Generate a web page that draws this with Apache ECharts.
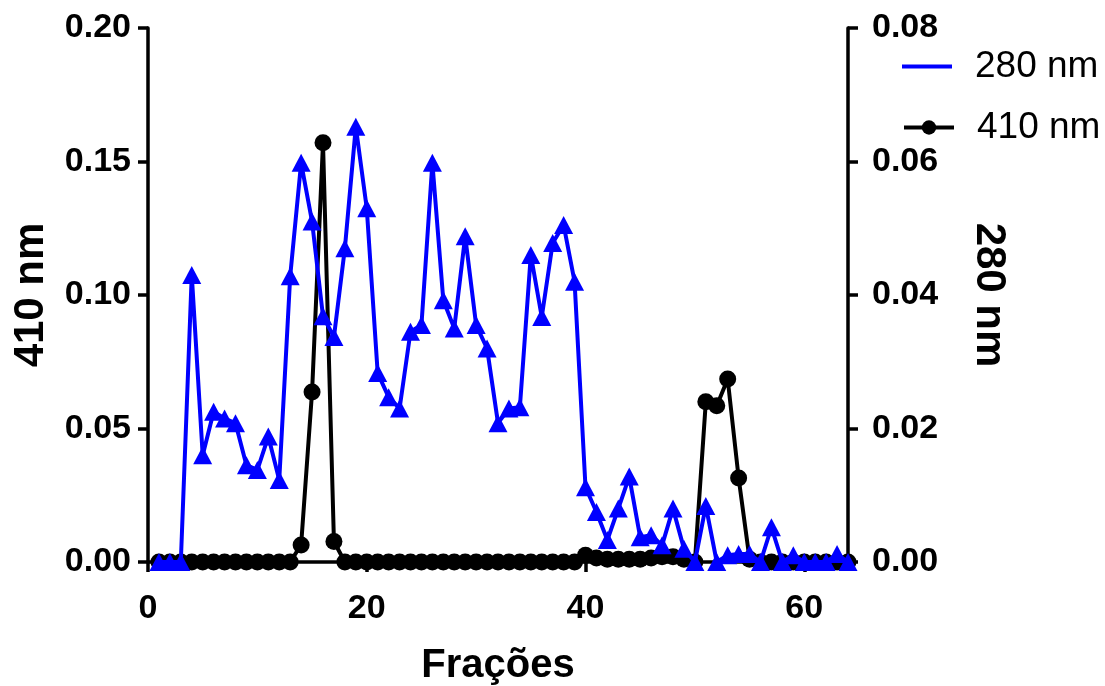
<!DOCTYPE html>
<html>
<head>
<meta charset="utf-8">
<title>Frações</title>
<script src="https://cdn.jsdelivr.net/npm/echarts@6/dist/echarts.min.js"></script>
<style>
    html, body { margin: 0; padding: 0; background: #fff; }
    #main { width: 1105px; height: 686px; }
</style>
</head>
<body>
<div id="main"></div>
<script>
// frações coletadas
var fractions = [1, 2, 3, 4, 5, 6, 7, 8, 9, 10, 11, 12, 13, 14, 15, 16,
    17, 18, 19, 20, 21, 22, 23, 24, 25, 26, 27, 28, 29, 30, 31, 32,
    33, 34, 35, 36, 37, 38, 39, 40, 41, 42, 43, 44, 45, 46, 47, 48,
    49, 50, 51, 52, 53, 54, 55, 56, 57, 58, 59, 60, 61, 62, 63, 64];

// absorbância a 280 nm (eixo direito)
var abs280 = [0, 0, 0, 0.0430, 0.0160, 0.0225, 0.0215, 0.0208, 0.0145, 0.0138, 0.0188, 0.0123, 0.0428, 0.0598, 0.0510, 0.0368,
    0.0337, 0.0470, 0.0652, 0.0530, 0.0283, 0.0247, 0.0230, 0.0345, 0.0355, 0.0598, 0.0392, 0.0350, 0.0488, 0.0355, 0.0320, 0.0208,
    0.0230, 0.0232, 0.0460, 0.0367, 0.0478, 0.0505, 0.0420, 0.0112, 0.0075, 0.0033, 0.0080, 0.0128, 0.0037, 0.0040, 0.0025, 0.0080,
    0.0020, 0, 0.0084, 0, 0.0010, 0.0012, 0.0012, 0, 0.0052, 0, 0.0010, 0, 0, 0, 0.0012, 0];

// absorbância a 410 nm (eixo esquerdo)
var abs410 = [0, 0, 0, 0, 0, 0, 0, 0, 0, 0, 0, 0, 0, 0.0064, 0.0637, 0.157,
    0.0077, 0, 0, 0, 0, 0, 0, 0, 0, 0, 0, 0, 0, 0, 0, 0,
    0, 0, 0, 0, 0, 0, 0, 0.0025, 0.0015, 0.0010, 0.0010, 0.0010, 0.0010, 0.0015, 0.0020, 0.0020,
    0.0010, 0, 0.0600, 0.0585, 0.0685, 0.0315, 0.0010, 0, 0, 0, 0, 0, 0, 0, 0, 0];

var xTicks = [0, 20, 40, 60];

var FONT = "'Liberation Sans', Arial, sans-serif";

var pairs = function (xs, ys) {
    var out = [];
    for (var i = 0; i < xs.length; i++) {
        out.push([xs[i], ys[i]]);
    }
    return out;
};

var myChart = echarts.init(document.getElementById('main'), null, { renderer: 'canvas' });

var axisBase = {
    axisLine: { show: true, lineStyle: { color: '#000', width: 3.5 } },
    axisTick: { show: true, length: 10, lineStyle: { color: '#000', width: 3.5 } },
    splitLine: { show: false },
    axisLabel: { color: '#000', fontFamily: FONT, fontWeight: 'bold', fontSize: 34 }
};

var titleStyle = { color: '#000', fontFamily: FONT, fontWeight: 'bold', fontSize: 40 };
var yTitleStyle = { color: '#000', fontFamily: FONT, fontWeight: 'bold', fontSize: 42 };

myChart.setOption({
    animation: false,
    backgroundColor: '#fff',
    // posição fixa do gráfico, sem reajuste pelos rótulos
    grid: { left: 148, right: 257, top: 28, bottom: 124, outerBoundsMode: 'none' },
    // dois blocos de legenda: 280 nm só com a linha
    legend: [{
        data: ['280 nm'],
        left: 897, top: 43,
        icon: 'rect',
        itemWidth: 50, itemHeight: 4,
        textStyle: { color: '#000', fontFamily: FONT, fontSize: 37, padding: [0, 0, 0, 18] }
    }, {
        data: ['410 nm'],
        left: 897, top: 104,
        itemWidth: 50, itemHeight: 18,
        lineStyle: { width: 4 },
        textStyle: { color: '#000', fontFamily: FONT, fontSize: 37, padding: [0, 0, 0, 18] }
    }],
    xAxis: echarts.util.merge({
        type: 'value',
        min: 0,
        max: 64,
        name: 'Frações',
        nameLocation: 'middle',
        nameGap: 84,
        nameTextStyle: titleStyle,
        axisTick: { customValues: xTicks },
        axisLabel: { customValues: xTicks, margin: 30 }
    }, axisBase, false),
    yAxis: [
        echarts.util.merge({
            type: 'value',
            position: 'left',
            min: 0, max: 0.2, interval: 0.05,
            name: '410 nm',
            nameLocation: 'middle',
            nameGap: 96,
            nameTextStyle: yTitleStyle,
            axisLabel: { margin: 17, formatter: function (v) { return v.toFixed(2); } }
        }, axisBase, false),
        echarts.util.merge({
            type: 'value',
            position: 'right',
            min: 0, max: 0.08, interval: 0.02,
            name: '280 nm',
            nameLocation: 'middle',
            nameGap: 120,
            nameRotate: -90,
            nameTextStyle: yTitleStyle,
            axisLabel: { margin: 24, formatter: function (v) { return v.toFixed(2); } }
        }, axisBase, false)
    ],
    series: [{
        name: '410 nm',
        type: 'line',
        yAxisIndex: 0,
        data: pairs(fractions, abs410),
        symbol: 'circle',
        symbolSize: 17,
        lineStyle: { color: '#000', width: 4 },
        itemStyle: { color: '#000' },
        z: 2
    }, {
        name: '280 nm',
        type: 'line',
        yAxisIndex: 1,
        data: pairs(fractions, abs280),
        symbol: 'triangle',
        symbolSize: [19, 18],
        lineStyle: { color: '#0000ff', width: 4 },
        itemStyle: { color: '#0000ff' },
        z: 3
    }]
});
</script>
</body>
</html>
